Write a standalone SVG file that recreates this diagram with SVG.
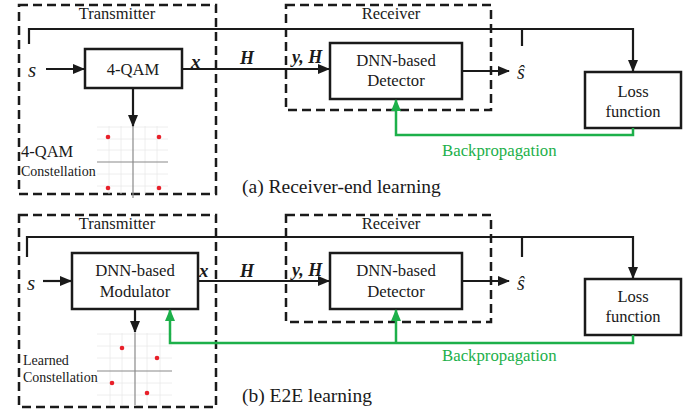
<svg xmlns="http://www.w3.org/2000/svg" width="698" height="412" viewBox="0 0 698 412">
<defs>
<marker id="ah" markerUnits="userSpaceOnUse" markerWidth="12" markerHeight="12" viewBox="0 0 12 12" refX="11" refY="6" orient="auto"><path d="M0,1 L12,6 L0,11 Z" fill="#1a1a1a"/></marker>
<marker id="gh" markerUnits="userSpaceOnUse" markerWidth="12" markerHeight="12" viewBox="0 0 12 12" refX="11" refY="6" orient="auto"><path d="M0,1 L12,6 L0,11 Z" fill="#1db04a"/></marker>
</defs>
<style>
.dash{fill:none;stroke:#1a1a1a;stroke-width:2.5;stroke-dasharray:9 5}
.box{fill:#fff;stroke:#1a1a1a;stroke-width:2.5}
.ln{fill:none;stroke:#1a1a1a;stroke-width:2.2}
.gl{fill:none;stroke:#1db04a;stroke-width:2.5}
.t{font-family:"Liberation Serif","Times New Roman",serif;fill:#1a1a1a}
.m{font-family:"Liberation Serif","Times New Roman",serif;font-style:italic;fill:#1a1a1a}
.mb{font-family:"Liberation Serif","Times New Roman",serif;font-style:italic;font-weight:bold;fill:#1a1a1a}
.g{font-family:"Liberation Serif","Times New Roman",serif;fill:#1db04a;font-size:16.8px}
.grid{stroke:#eaeaea;stroke-width:0.8}
.ax{stroke:#8a8a8a;stroke-width:1.2}
.dot{fill:#e8202a}
</style>

<!-- Panel (a) -->
<g id="a-transmitter"><rect class="dash" x="19" y="5" width="197" height="189"/><text class="t" x="117" y="19" font-size="16.5" text-anchor="middle">Transmitter</text></g>
<g id="a-receiver"><rect class="dash" x="286" y="5" width="205" height="105"/><text class="t" x="391" y="19" font-size="16.5" text-anchor="middle">Receiver</text></g>
<g id="a-qam"><rect class="box" x="85" y="49" width="97" height="39"/><text class="t" x="133" y="75" font-size="16.6" text-anchor="middle">4-QAM</text></g>
<g id="a-detector"><rect class="box" x="330" y="43" width="132" height="56"/><text class="t" x="396" y="66" font-size="16.7" text-anchor="middle">DNN-based</text><text class="t" x="396" y="86" font-size="16.7" text-anchor="middle">Detector</text></g>
<g id="a-loss"><rect class="box" x="585" y="72" width="96" height="56"/><text class="t" x="633" y="97" font-size="16.5" text-anchor="middle">Loss</text><text class="t" x="633" y="117" font-size="16.5" text-anchor="middle">function</text></g>
<g id="a-const">
<path class="grid" d="M97,127H168M97,139H168M97,150H168M97,174H168M97,186H168M109,126V194M121,126V194M145,126V194M157,126V194"/>
<path class="ax" d="M97,162H168M133,126V198"/>
<circle class="dot" cx="108" cy="137" r="2.3"/><circle class="dot" cx="159" cy="137" r="2.3"/><circle class="dot" cx="108" cy="188" r="2.3"/><circle class="dot" cx="159" cy="188" r="2.3"/>
<text class="t" x="21" y="157" font-size="16.5">4-QAM</text><text class="t" x="21" y="176" font-size="14">Constellation</text>
</g>
<g id="a-labels">
<text class="m" x="28" y="77" font-size="21">s</text>
<text class="mb" x="191" y="68" font-size="19">x</text>
<text class="mb" x="240" y="64" font-size="18">H</text>
<text class="mb" x="292" y="63" font-size="18">y, H</text>
<text class="m" x="517" y="79" font-size="20">ŝ</text>
<text class="g" x="442" y="156">Backpropagation</text>
<text class="t" x="242" y="193" font-size="19.5">(a) Receiver-end learning</text>
</g>

<!-- Panel (b) -->
<g id="b-transmitter"><rect class="dash" x="19" y="215" width="197" height="192"/><text class="t" x="117" y="229" font-size="16.5" text-anchor="middle">Transmitter</text></g>
<g id="b-receiver"><rect class="dash" x="286" y="215" width="205" height="107"/><text class="t" x="391" y="229" font-size="16.5" text-anchor="middle">Receiver</text></g>
<g id="b-modulator"><rect class="box" x="72" y="253" width="126" height="56"/><text class="t" x="135" y="276" font-size="16.7" text-anchor="middle">DNN-based</text><text class="t" x="135" y="297" font-size="16.7" text-anchor="middle">Modulator</text></g>
<g id="b-detector"><rect class="box" x="330" y="253" width="132" height="56"/><text class="t" x="396" y="276" font-size="16.7" text-anchor="middle">DNN-based</text><text class="t" x="396" y="297" font-size="16.7" text-anchor="middle">Detector</text></g>
<g id="b-loss"><rect class="box" x="585" y="279" width="96" height="56"/><text class="t" x="633" y="302" font-size="16.5" text-anchor="middle">Loss</text><text class="t" x="633" y="322" font-size="16.5" text-anchor="middle">function</text></g>
<g id="b-const">
<path class="grid" d="M97,334H172M97,346H172M97,358H172M97,383H172M97,395H172M110,333V405M122,333V405M147,333V405M160,333V405"/>
<path class="ax" d="M97,371H172M135,333V405"/>
<circle class="dot" cx="122" cy="348" r="2.3"/><circle class="dot" cx="157" cy="358" r="2.3"/><circle class="dot" cx="112" cy="383" r="2.3"/><circle class="dot" cx="147" cy="393" r="2.3"/>
<text class="t" x="23" y="365" font-size="14">Learned</text><text class="t" x="23" y="382" font-size="14">Constellation</text>
</g>
<g id="b-labels">
<text class="m" x="27" y="290" font-size="21">s</text>
<text class="mb" x="199" y="277" font-size="19">x</text>
<text class="mb" x="240" y="277" font-size="18">H</text>
<text class="mb" x="292" y="276" font-size="18">y, H</text>
<text class="m" x="517" y="290" font-size="20">ŝ</text>
<text class="g" x="442" y="361">Backpropagation</text>
<text class="t" x="242" y="402" font-size="19.5">(b) E2E learning</text>
</g>

<g id="connectors">
<!-- (a) -->
<path class="ln" d="M29,44V29H633V71" marker-end="url(#ah)"/>
<path class="ln" d="M522,29V46"/>
<path class="ln" d="M46,69H84" marker-end="url(#ah)"/>
<path class="ln" d="M182,69H329" marker-end="url(#ah)"/>
<path class="ln" d="M133,88V126" marker-end="url(#ah)"/>
<path class="ln" d="M462,71H509" marker-end="url(#ah)"/>
<path class="gl" d="M633,128V135H396V100" marker-end="url(#gh)"/>
<!-- (b) -->
<path class="ln" d="M27,257V237H633V278" marker-end="url(#ah)"/>
<path class="ln" d="M522,237V257"/>
<path class="ln" d="M43,281H71" marker-end="url(#ah)"/>
<path class="ln" d="M198,281H329" marker-end="url(#ah)"/>
<path class="ln" d="M135,309V332" marker-end="url(#ah)"/>
<path class="ln" d="M462,281H509" marker-end="url(#ah)"/>
<path class="gl" d="M633,335V343H170V310" marker-end="url(#gh)"/>
<path class="gl" d="M396,343V310" marker-end="url(#gh)"/>
</g>
</svg>
